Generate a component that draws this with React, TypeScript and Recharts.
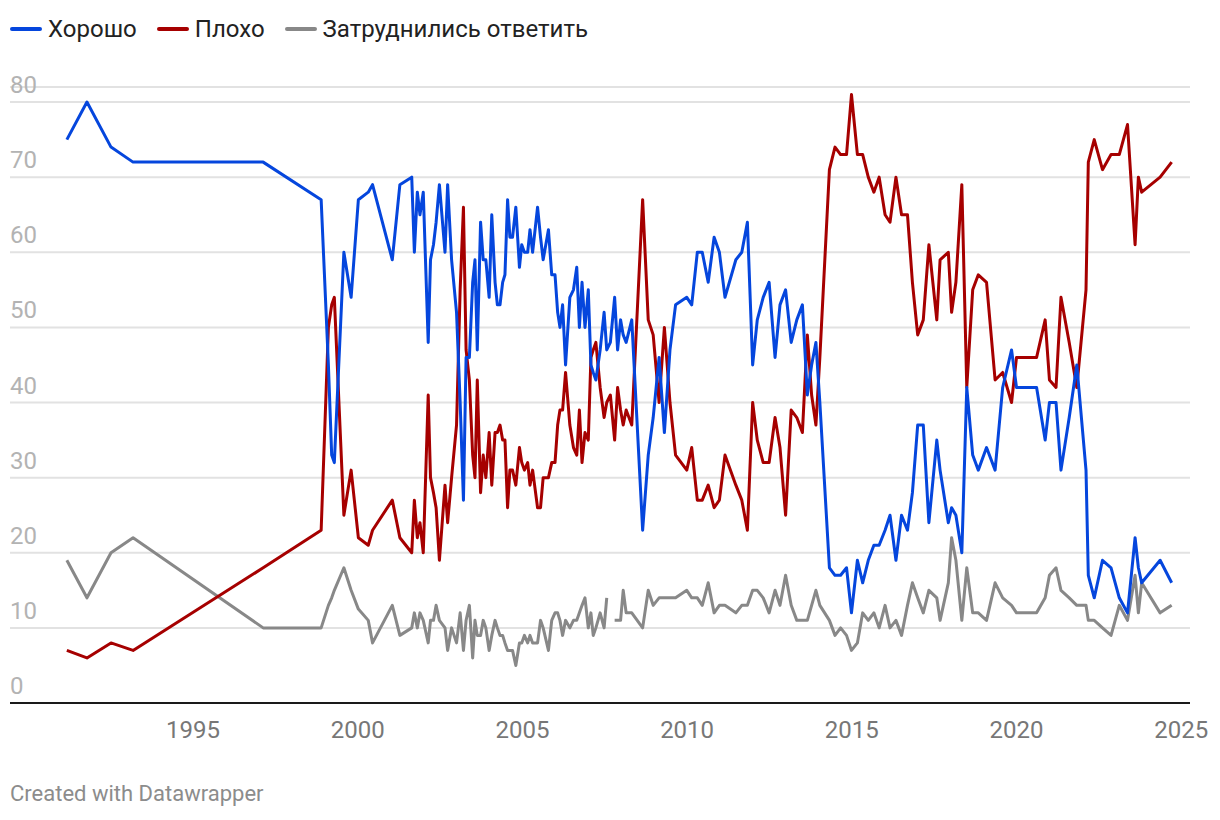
import React from 'react';
import { LineChart, Line, XAxis, YAxis, CartesianGrid } from 'recharts';

// survey dates as decimal years
const dates = [
  1991.17, 1991.78, 1992.51, 1993.18, 1997.13, 1998.89, 1999.11, 1999.21, 1999.29, 1999.58,
  1999.8, 2000.02, 2000.32, 2000.45, 2001.05, 2001.28, 2001.64, 2001.72, 2001.81, 2001.89,
  2001.99, 2002.14, 2002.21, 2002.3, 2002.38, 2002.48, 2002.65, 2002.73, 2002.85, 2003.0,
  2003.11, 2003.21, 2003.29, 2003.39, 2003.49, 2003.56, 2003.63, 2003.73, 2003.81, 2003.89,
  2003.99, 2004.07, 2004.17, 2004.24, 2004.32, 2004.4, 2004.47, 2004.55, 2004.62, 2004.7,
  2004.8, 2004.91, 2004.98, 2005.06, 2005.16, 2005.23, 2005.31, 2005.46, 2005.55, 2005.63,
  2005.79, 2005.89, 2005.99, 2006.07, 2006.14, 2006.22, 2006.31, 2006.44, 2006.55, 2006.65,
  2006.73, 2006.81, 2006.9, 2007.0, 2007.08, 2007.15, 2007.23, 2007.36, 2007.48, 2007.56,
  2007.67, 2007.8, 2007.89, 2007.98, 2008.06, 2008.15, 2008.32, 2008.65, 2008.82, 2008.97,
  2009.15, 2009.31, 2009.48, 2009.65, 2009.99, 2010.14, 2010.31, 2010.46, 2010.64, 2010.82,
  2010.98, 2011.15, 2011.48, 2011.66, 2011.83, 2011.99, 2012.13, 2012.31, 2012.49, 2012.67,
  2012.82, 2012.99, 2013.16, 2013.33, 2013.5, 2013.65, 2013.78, 2013.91, 2014.03, 2014.32,
  2014.49, 2014.66, 2014.84, 2014.99, 2015.17, 2015.33, 2015.5, 2015.67, 2015.83, 2016.01,
  2016.16, 2016.34, 2016.51, 2016.69, 2016.84, 2017.0, 2017.17, 2017.34, 2017.58, 2017.68,
  2017.93, 2018.03, 2018.16, 2018.34, 2018.49, 2018.67, 2018.84, 2019.09, 2019.35, 2019.58,
  2019.85, 2020.0, 2020.61, 2020.87, 2021.0, 2021.2, 2021.35, 2021.6, 2021.83, 2022.11,
  2022.18, 2022.36, 2022.61, 2022.87, 2023.12, 2023.37, 2023.6, 2023.7, 2023.8, 2024.36,
  2024.71,
];

// Хорошо
const good = [
  75, 80, 74, 72, 72, 67, 45, 33, 32, 60,
  54, 67, 68, 69, 59, 69, 70, 60, 68, 65,
  68, 48, 59, 61, 64, 69, 60, 69, 59, 52,
  40, 27, 46, 46, 56, 59, 47, 64, 59, 59,
  54, 65, 56, 53, 53, 56, 57, 67, 62, 62,
  66, 58, 61, 60, 60, 63, 60, 66, 62, 59,
  63, 57, 57, 52, 50, 53, 45, 54, 55, 58,
  50, 56, 50, 55, 45, 44, 43, 47, 52, 47,
  48, 54, 47, 51, 49, 48, 51, 23, 33, 38,
  46, 36, 47, 53, 54, 53, 60, 60, 56, 62,
  60, 54, 59, 60, 64, 45, 51, 54, 56, 46,
  53, 55, 48, 51, 53, 41, 45, 48, 40, 18,
  17, 17, 18, 12, 19, 16, 19, 21, 21, 23,
  25, 19, 25, 23, 28, 37, 37, 24, 35, 31,
  24, 26, 25, 20, 42, 33, 31, 34, 31, 42,
  47, 42, 42, 35, 40, 40, 31, 38, 45, 31,
  17, 14, 19, 18, 14, 12, 22, 18, 16, 19,
  16,
];

// Плохо
const bad = [
  7, 6, 8, 7, 18, 23, 50, 53, 54, 25,
  31, 22, 21, 23, 27, 22, 20, 27, 22, 24,
  20, 41, 30, 28, 26, 19, 29, 24, 30, 37,
  55, 66, 47, 43, 33, 30, 43, 28, 33, 30,
  36, 29, 36, 36, 37, 35, 35, 26, 31, 31,
  29, 34, 32, 31, 32, 29, 31, 26, 26, 30,
  30, 32, 32, 37, 39, 39, 44, 37, 34, 33,
  39, 32, 36, 35, 46, 47, 48, 42, 38, 40,
  41, 35, 42, 39, 37, 39, 37, 67, 51, 49,
  40, 50, 40, 33, 31, 34, 27, 27, 29, 26,
  27, 33, 29, 27, 23, 40, 35, 32, 32, 38,
  34, 25, 39, 38, 36, 49, 41, 37, 46, 71,
  74, 73, 73, 81, 73, 73, 70, 68, 70, 65,
  64, 70, 65, 65, 56, 49, 51, 61, 51, 59,
  60, 52, 56, 69, 42, 55, 57, 56, 43, 44,
  40, 46, 46, 51, 43, 42, 54, 48, 42, 55,
  72, 75, 71, 73, 73, 77, 61, 70, 68, 70,
  72,
];

// Затруднились ответить (null = no survey value)
const unsure = [
  19, 14, 20, 22, 10, 10, 13, 14, 15, 18,
  15, 12.5, 11, 8, 13, 9, 10, 12, 10, 12,
  11, 8, 11, 11, 13, 11, 10, 7, 10, 8,
  12, 7, 11, 13, 6, 11, 9, 9, 11, 10,
  7, 9, 11, 10, 9, 9, 8, 7, 7, 7,
  5, 8, 8, 9, 8, 9, 8, 8, 11, 10,
  7, 11, 12, 12, 11, 9, 11, 10, 11, 11,
  12, 13, 14, 10, 12, 9, 10, 12, 10, 14,
  null, 11, 11, 11, 15, 12, 12, 10, 15, 13,
  14, 14, 14, 14, 15, 14, 14, 13, 16, 12,
  13, 13, 12, 13, 13, 15, 15, 14, 12, 15,
  13, 17, 13, 11, 11, 11, 13, 15, 13, 11,
  9, 10, 9, 7, 8, 12, 11, 12, 10, 13,
  10, 11, 9, 13, 16, 14, 12, 15, 14, 11,
  16, 22, 19, 11, 18, 12, 12, 11, 16, 14,
  13, 12, 12, 14, 17, 18, 15, 14, 13, 13,
  11, 11, 10, 9, 13, 11, 17, 12, 16, 12,
  13,
];

const yearTicks = [1995, 2000, 2005, 2010, 2015, 2020, 2025];
const valueTicks = [0, 10, 20, 30, 40, 50, 60, 70, 80];

const data = dates.map((d, i) => ({ date: d, good: good[i], bad: bad[i], unsure: unsure[i] }));

const BLUE = '#0546dd';
const RED = '#a60000';
const GRAY = '#888888';
const FONT = 'Roboto, "Noto Sans", sans-serif';

const legendItems = [
  { label: 'Хорошо', color: BLUE },
  { label: 'Плохо', color: RED },
  { label: 'Затруднились ответить', color: GRAY },
];

const YTick = (props: any) => {
  const { y, payload } = props;
  return (
    <text x={10} y={y - 9} fill="#b3b3b3" fontSize={24} fontFamily={FONT} textAnchor="start">
      {payload.value}
    </text>
  );
};

const XTick = (props: any) => {
  const { x, y, payload } = props;
  return (
    <text x={x} y={y + 33} fill="#777777" fontSize={24} fontFamily={FONT} textAnchor="middle">
      {payload.value}
    </text>
  );
};

export default function App() {
  return (
    <div style={{ position: 'absolute', left: 0, top: 0, width: 1220, height: 820, background: '#fff', fontFamily: FONT }}>
      <div style={{ position: 'absolute', left: 10, top: 15, display: 'flex', alignItems: 'center', fontSize: 24, color: '#222' }}>
        {legendItems.map((it) => (
          <div key={it.label} style={{ display: 'flex', alignItems: 'center', marginRight: 20 }}>
            <span style={{ display: 'inline-block', width: 32, height: 4, borderRadius: 2, background: it.color, marginRight: 6 }} />
            <span>{it.label}</span>
          </div>
        ))}
      </div>
      <LineChart width={1220} height={820} data={data} margin={{ top: 87, right: 30, bottom: 77, left: 10 }}>
        <CartesianGrid vertical={false} stroke="#e2e2e2" strokeWidth={2} />
        <XAxis
          type="number"
          dataKey="date"
          domain={[1989.444, 2025.267]}
          ticks={yearTicks}
          tickLine={false}
          tickSize={0}
          tick={<XTick />}
          axisLine={{ stroke: '#1a1a1a', strokeWidth: 2 }}
          height={40}
          interval={0}
        />
        <YAxis
          type="number"
          domain={[0, 82]}
          ticks={valueTicks}
          width={60}
          mirror
          axisLine={false}
          tickLine={false}
          tick={<YTick />}
          interval={0}
        />
        <Line type="linear" dataKey="unsure" stroke={GRAY} strokeWidth={3} dot={false} connectNulls={false} isAnimationActive={false} strokeLinejoin="round" />
        <Line type="linear" dataKey="bad" stroke={RED} strokeWidth={3} dot={false} isAnimationActive={false} strokeLinejoin="round" />
        <Line type="linear" dataKey="good" stroke={BLUE} strokeWidth={3} dot={false} isAnimationActive={false} strokeLinejoin="round" />
      </LineChart>
      <div style={{ position: 'absolute', left: 10, top: 781, fontSize: 22, color: '#8c8c8c' }}>Created with Datawrapper</div>
    </div>
  );
}
